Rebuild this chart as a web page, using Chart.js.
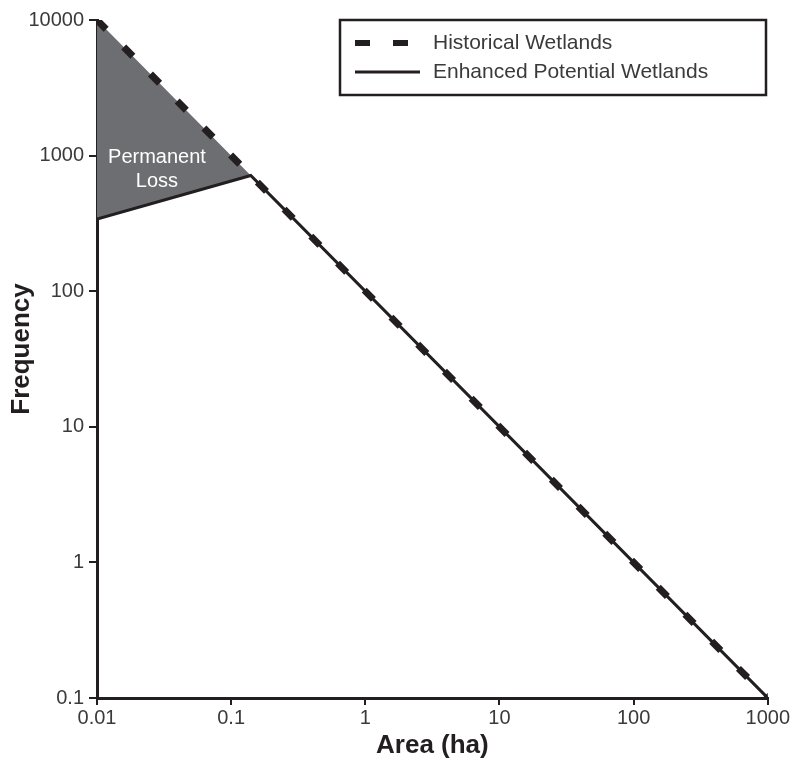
<!DOCTYPE html>
<html><head><meta charset="utf-8">
<script src="https://cdn.jsdelivr.net/npm/chart.js@4/dist/chart.umd.min.js"></script>
<style>html,body{margin:0;padding:0;background:#fff}#wrap{width:791px;height:767px}</style>
</head><body><div id="wrap"><canvas id="c" width="791" height="767"></canvas></div>
<script>
const areaX = [0.01, 0.14, 1000];
const historical = [10000, 714, 0.1];
const enhanced = [340, 714, 0.1];
const xTicks = [0.01, 0.1, 1, 10, 100, 1000];
const yTicks = [0.1, 1, 10, 100, 1000, 10000];
const seriesNames = ['Historical Wetlands', 'Enhanced Potential Wetlands'];
const regionLabel = ['Permanent', 'Loss'];
const xTitle = 'Area (ha)';
const yTitle = 'Frequency';

const INK = '#231f20';
const FONT = '"Liberation Sans", Arial, sans-serif';

const legendPlugin = {
  id: 'boxLegend',
  afterDraw(chart) {
    const ctx = chart.ctx;
    ctx.save();
    const xs = chart.scales.x, ys = chart.scales.y;
    // y axis title
    ctx.save();
    ctx.translate(22, 349);
    ctx.rotate(-Math.PI / 2);
    ctx.fillStyle = INK;
    ctx.font = 'bold 26px ' + FONT;
    ctx.textAlign = 'center';
    ctx.textBaseline = 'middle';
    ctx.fillText(yTitle, 0, 0);
    ctx.restore();
    // region label
    ctx.fillStyle = '#ffffff';
    ctx.font = '20px ' + FONT;
    ctx.textAlign = 'center';
    ctx.textBaseline = 'middle';
    const cx = xs.getPixelForValue(0.028), cy = ys.getPixelForValue(1000);
    ctx.fillText(regionLabel[0], cx, cy + 2);
    ctx.fillText(regionLabel[1], cx, cy + 26);
    // legend box
    const bx = 340, by = 20, bw = 426, bh = 75;
    ctx.fillStyle = '#fff';
    ctx.fillRect(bx, by, bw, bh);
    ctx.strokeStyle = INK;
    ctx.lineWidth = 2.5;
    ctx.strokeRect(bx, by, bw, bh);
    ctx.lineWidth = 6;
    ctx.setLineDash([15, 23]);
    ctx.beginPath(); ctx.moveTo(355, 43); ctx.lineTo(420, 43); ctx.stroke();
    ctx.setLineDash([]);
    ctx.lineWidth = 3;
    ctx.beginPath(); ctx.moveTo(355, 72); ctx.lineTo(420, 72); ctx.stroke();
    ctx.fillStyle = '#3a3a3a';
    ctx.textAlign = 'left';
    ctx.font = '21px ' + FONT;
    ctx.fillText(seriesNames[0], 433, 43);
    ctx.fillText(seriesNames[1], 433, 72);
    ctx.restore();
  }
};

const pts = (ys) => areaX.map((x, i) => ({x, y: ys[i]}));

new Chart(document.getElementById('c'), {
  type: 'line',
  data: {
    datasets: [
      {
        label: seriesNames[0], data: pts(historical),
        borderColor: INK, borderWidth: 7, borderDash: [13, 25],
        pointRadius: 0, fill: false, order: 0
      },
      {
        label: seriesNames[1], data: pts(enhanced),
        borderColor: INK, borderWidth: 3,
        pointRadius: 0, fill: {target: 0}, backgroundColor: '#6d6e71', order: 1
      }
    ]
  },
  options: {
    responsive: false, animation: false,
    layout: {padding: {top: 20, right: 22, left: 0, bottom: 0}},
    plugins: {legend: {display: false}, tooltip: {enabled: false}},
    scales: {
      x: {
        type: 'logarithmic', min: 0.01, max: 1000,
        afterBuildTicks(s) { s.ticks = xTicks.map(v => ({value: v})); },
        afterFit(s) { s.height = 69; },
        border: {display: true, color: INK, width: 3},
        grid: {display: true, drawOnChartArea: false, drawTicks: true, tickLength: 7, color: INK, lineWidth: 2},
        ticks: {color: '#3a3a3a', font: {size: 20, family: FONT}, padding: 1, maxRotation: 0,
          callback: (v) => String(v)},
        title: {display: true, text: xTitle, color: INK, font: {size: 26, weight: 'bold', family: FONT}, padding: {top: 0, bottom: 6}}
      },
      y: {
        type: 'logarithmic', min: 0.1, max: 10000,
        afterBuildTicks(s) { s.ticks = yTicks.map(v => ({value: v})); },
        afterFit(s) { s.width = 97; },
        border: {display: true, color: INK, width: 3},
        grid: {display: true, drawOnChartArea: false, drawTicks: true, tickLength: 8, color: INK, lineWidth: 2},
        ticks: {color: '#3a3a3a', font: {size: 20, family: FONT}, padding: 5,
          callback: (v) => String(v)},
        title: {display: false}
      }
    }
  },
  plugins: [legendPlugin]
});
</script></body></html>
